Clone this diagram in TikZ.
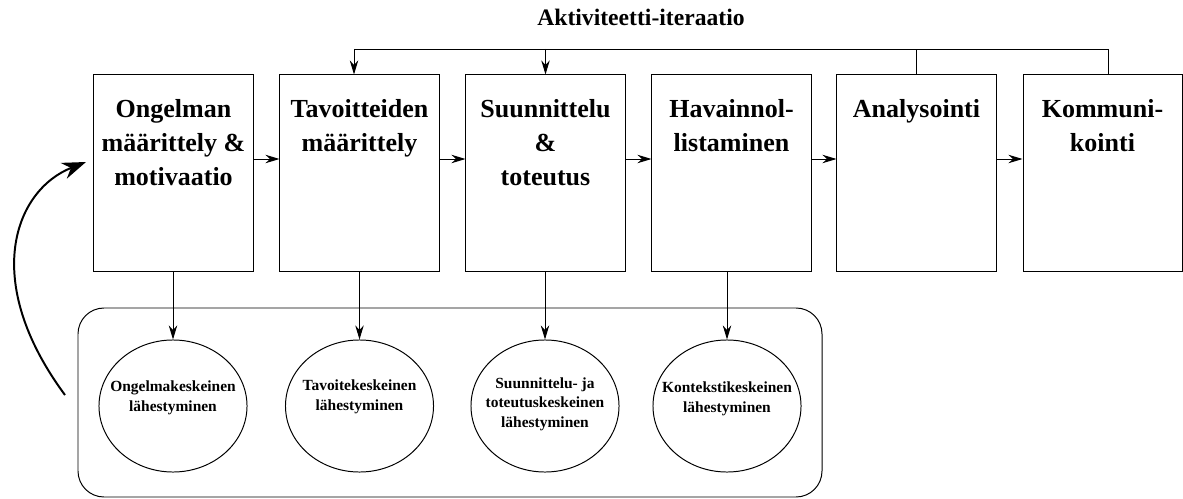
\documentclass[tikz,border=0pt]{standalone}
\usepackage{fontspec}
\setmainfont{Liberation Serif}
\usetikzlibrary{arrows.meta,shapes.geometric}

\begin{document}
\begin{tikzpicture}[x=0.025cm,y=-0.025cm,line width=0.7pt,
    phase/.style={draw,minimum width=3.975cm,minimum height=4.9cm},
    phasetext/.style={anchor=north,inner sep=0pt,align=center,
      font=\fontsize{18.5}{24}\selectfont\bfseries},
    approach/.style={draw,ellipse,minimum width=3.7cm,minimum height=3.3cm,inner sep=0pt},
    approachtext/.style={inner sep=0pt,align=center,font=\fontsize{11}{14}\selectfont\bfseries},
    arr/.style={-{Stealth[length=10pt,width=6pt]}}]
        \useasboundingbox (0,0) rectangle (1183,499);

        % title
        \node[font=\fontsize{16.8}{20}\selectfont\bfseries] (title) at (641,17) {Aktiviteetti-iteraatio};

        % phases
        \node[phase] (b1) at (173.5,173) {};
        \node[phase] (b2) at (359.5,173) {};
        \node[phase] (b3) at (545.5,173) {};
        \node[phase] (b4) at (731.5,173) {};
        \node[phase] (b5) at (916.5,173) {};
        \node[phase] (b6) at (1102.5,173) {};
        \node[phasetext] (t1) at ([yshift=-17.5pt]b1.north) {Ongelman\\määrittely \&\\motivaatio};
        \node[phasetext] (t2) at ([yshift=-17.5pt]b2.north) {Tavoitteiden\\määrittely};
        \node[phasetext] (t3) at ([yshift=-17.5pt]b3.north) {Suunnittelu\\\&\\toteutus};
        \node[phasetext] (t4) at ([yshift=-17.5pt]b4.north) {Havainnol-\\listaminen};
        \node[phasetext] (t5) at ([yshift=-17.5pt]b5.north) {Analysointi};
        \node[phasetext] (t6) at ([yshift=-17.5pt]b6.north) {Kommuni-\\kointi};

        \coordinate (hl) at (0,159);
        \foreach \i/\j in {b1/b2,b2/b3,b3/b4,b4/b5,b5/b6}
          \draw[arr] (\i.east |- hl) -- (\j.west |- hl);

        % iteration
        \coordinate (itl) at (354,49);
        \coordinate (itr) at (1108,49);
        \draw (itr |- b6.north) -- (itr) -- (itl);
        \draw[arr] (itl) -- (itl |- b2.north);
        \draw[arr] (b3.north |- itl) -- (b3.north);
        \draw (b5.north) -- (b5.north |- itl);

        % entry points
        \draw[rounded corners=0.65cm] (78,308) rectangle (822,497);
        \node[approach] (e1) at (173,406) {};
        \node[approach] (e2) at (359.5,406) {};
        \node[approach] (e3) at (545,406) {};
        \node[approach] (e4) at (727,406) {};
        \node[approachtext] (e1t) at (173,398) {Ongelmakeskeinen\\lähestyminen};
        \node[approachtext] (e2t) at (359.5,397) {Tavoitekeskeinen\\lähestyminen};
        \node[approachtext] (e3t) at (545,404) {Suunnittelu- ja\\toteutuskeskeinen\\lähestyminen};
        \node[approachtext] (e4t) at (727,399) {Kontekstikeskeinen\\lähestyminen};
        \foreach \i/\j in {b1/e1,b2/e2,b3/e3,b4/e4}
          \draw[arr] (\j.north |- \i.south) -- (\j.north);

        \coordinate (loopstart) at (65,395);
        \coordinate (loopend) at (86,162);
        \draw[line width=1.4pt,-{Stealth[length=17pt,width=12pt]}] (loopstart) .. controls (-20,280) and (15,190) .. (loopend);
      \end{tikzpicture}
\end{document}
